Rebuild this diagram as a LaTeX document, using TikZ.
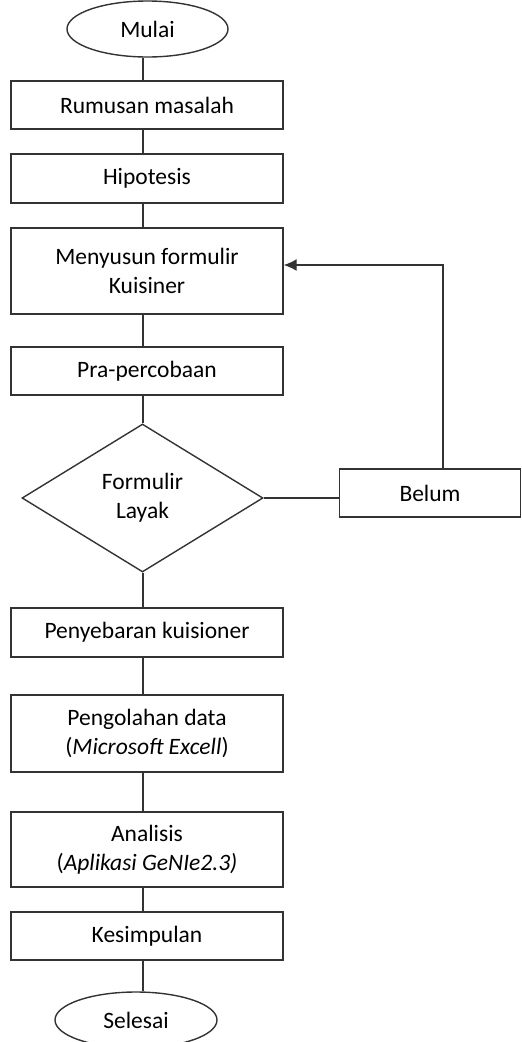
\documentclass[tikz,border=0pt]{standalone}
\usepackage{fontspec}
\setmainfont{Carlito}
\usepackage{tikz}
\usetikzlibrary{shapes,positioning}
\usetikzlibrary{calc}
\usetikzlibrary{arrows.meta}
\tikzset{
	garis/.style={draw=black!80,line width=1.4pt},
	panah/.style={garis,-{Latex[length=13pt,width=12pt]}},
	teks/.style={inner sep=0pt,align=center,font=\fontsize{23.5}{29}\selectfont},
	kotak/.style={teks,garis,rectangle,minimum width=272pt},
	terminal/.style={teks,garis,ellipse,minimum width=161pt,minimum height=56pt},
	keputusan/.style={teks,garis,diamond,minimum width=241pt,minimum height=148pt}
}

\begin{document}
\begin{tikzpicture}[x=1pt,y=-1pt]
	
	\clip (0,0) rectangle (522,1042); % bingkai gambar
	
	%Titik bantu
	\coordinate (spine) at (143,0);
	\coordinate (balik) at (443,265);
	
	%Mulai
	\node[terminal] (mulai) at (147.5,29) {Mulai};
	
	%Langkah
	\node[kotak,minimum height=48pt] (rumusan) at (147,105) {Rumusan masalah};
	\node[kotak,minimum height=49pt] (hipotesis) at (147,178.5) {Hipotesis};
	\node[kotak,minimum height=86pt] (menyusun) at (147,271) {Menyusun formulir\\Kuisiner};
	\node[kotak,minimum height=48pt] (pra) at (147,371) {Pra-percobaan};
	
	%Keputusan
	\node[keputusan] (layak) at (142.5,498) {Formulir\\Layak};
	\node[kotak,minimum width=181pt,minimum height=48pt] (belum) at (430,493) {Belum};
	
	\node[kotak,minimum height=49pt] (penyebaran) at (147,632.5) {Penyebaran kuisioner};
	\node[kotak,minimum height=77pt] (pengolahan) at (147,733.5) {Pengolahan data\\(\textit{Microsoft Excell})};
	\node[kotak,minimum height=75pt] (analisis) at (147,849.5) {Analisis\\(\textit{Aplikasi GeNIe2.3)}};
	\node[kotak,minimum height=48pt] (kesimpulan) at (147,936) {Kesimpulan};
	
	%Selesai
	\node[terminal,minimum width=162pt] (selesai) at (136,1020) {Selesai};
	
	%Garis alur
	\foreach \a/\b in {mulai/rumusan,rumusan/hipotesis,hipotesis/menyusun,menyusun/pra,pra/layak,layak/penyebaran,penyebaran/pengolahan,pengolahan/analisis,analisis/kesimpulan,kesimpulan/selesai} {
		\draw[garis] (\a.south -| spine) -- (\b.north -| spine);
	}
	
	%Umpan balik
	\draw[garis] (layak.east) -- (layak.east -| belum.west);
	\draw[panah] (balik |- belum.north) -- (balik) -- (balik -| menyusun.east);
	
\end{tikzpicture}
\end{document}
